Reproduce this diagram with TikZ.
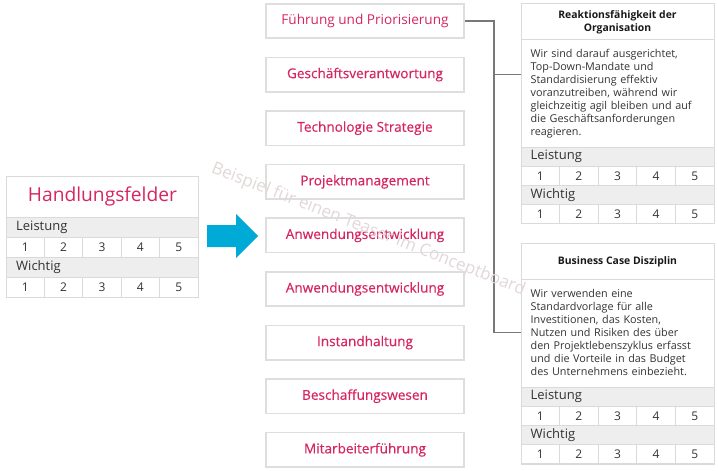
\documentclass[tikz,border=0pt]{standalone}
\usepackage{fontspec}
\setmainfont{Open Sans}
\newfontfamily\topicfont{Open Sans}[FakeBold=0.35]
\usetikzlibrary{positioning,calc}
\definecolor{berry}{RGB}{214,38,98}
\definecolor{arrowcyan}{RGB}{0,170,214}
\definecolor{framegray}{RGB}{222,222,222}
\definecolor{gridgray}{RGB}{218,218,218}
\definecolor{bandgray}{RGB}{238,238,238}
\definecolor{ink}{RGB}{51,51,51}
\definecolor{titleink}{RGB}{25,25,25}
\definecolor{wiregray}{RGB}{120,120,120}
\definecolor{markgray}{RGB}{226,216,216}
\tikzset{
  topic/.style={draw=framegray,line width=1.6pt,fill=white,text=berry,
    minimum width=198.4pt,minimum height=34.4pt,inner sep=0pt,
    font=\topicfont\fontsize{13.6}{16}\selectfont},
  lighttopic/.style={topic,font=\fontsize{13.6}{16}\selectfont},
  panel/.style={draw=gridgray,line width=0.9pt,fill=white,inner sep=0pt,anchor=north west},
  bandrow/.style={draw=gridgray,line width=0.9pt,fill=bandgray},
  scorecell/.style={draw=gridgray,line width=0.9pt,fill=white},
  bandlabel/.style={anchor=west,inner sep=0pt,text=ink,font=\fontsize{13}{15}\selectfont},
  scorenum/.style={inner sep=0pt,text=ink,font=\fontsize{12}{14}\selectfont},
  cardtitle/.style={font=\bfseries\fontsize{10.4}{13.3}\selectfont,align=center,text=titleink},
  cardtext/.style={anchor=north west,inner sep=0pt,text width=184pt,align=left,
    text=ink,font=\fontsize{10.8}{13}\selectfont},
  wire/.style={draw=wiregray,line width=1.2pt},
  pointer/.style={fill=arrowcyan},
  watermark/.style={text=markgray,font=\fontsize{17}{20}\selectfont,
    rotate=-21.5,anchor=west,inner sep=0pt}
}
% two rating rows: name, x, y, width, row height, label inset
\newcommand{\scoregrid}[6]{%
  \foreach \lab [count=\r from 0] in {Leistung,Wichtig}{
    \path[bandrow] (#2,{#3+2*\r*#5}) rectangle ++(#4,#5);
    \node[bandlabel] (#1-\lab) at ({#2+#6},{#3+(2*\r+0.5)*#5}) {\lab};
    \foreach \n in {1,...,5}{
      \path[scorecell] ({#2+(\n-1)*#4/5},{#3+(2*\r+1)*#5}) rectangle ++({#4/5},#5);
      \node[scorenum] (#1-\lab-\n) at ({#2+(\n-0.5)*#4/5},{#3+(2*\r+1.5)*#5}) {\n};
    }
  }
}
\begin{document}
\begin{tikzpicture}[x=1pt,y=-1pt]
  \useasboundingbox[fill=white] (0,0) rectangle (718,471);

  % left block
  \node[panel,minimum width=192pt,minimum height=41pt,text=berry,
    font=\fontsize{19.2}{22}\selectfont] (hf) at (6,176) {Handlungsfelder};
  \scoregrid{hf}{6}{217}{192}{20}{10}

  \fill[pointer] (207,225) -- (236,225) -- (236,214) -- (258,236)
    -- (236,258) -- (236,247) -- (207,247) -- cycle;

  % topics
  \node[lighttopic] (topic0) at (365,21) {Führung und Priorisierung};
  \foreach \t [count=\i from 1] in {Geschäftsverantwortung,Technologie Strategie,
    Projektmanagement,Anwendungsentwicklung,Anwendungsentwicklung,
    Instandhaltung,Beschaffungswesen,Mitarbeiterführung}
    \node[topic] (topic\i) at (365,{21+53.6*\i}) {\t};

  % cards
  \node[panel,minimum width=193pt,minimum height=220pt] (card1) at (521,3) {};
  \draw[draw=gridgray,line width=0.9pt] (521,39) -- (714,39);
  \node[cardtitle] (card1-title) at (617.5,22) {Reaktionsfähigkeit der\\Organisation};
  \node[cardtext] (card1-text) at (530.5,49) {Wir sind darauf ausgerichtet,\\
    Top-Down-Mandate und\\Standardisierung effektiv\\voranzutreiben, während wir\\
    gleichzeitig agil bleiben und auf\\die Geschäftsanforderungen\\reagieren.};
  \scoregrid{card1}{521}{147}{193}{19.2}{9.5}

  \node[panel,minimum width=193pt,minimum height=221pt] (card2) at (521,243) {};
  \draw[draw=gridgray,line width=0.9pt] (521,279) -- (714,279);
  \node[cardtitle] (card2-title) at (617.5,262) {Business Case Disziplin};
  \node[cardtext] (card2-text) at (530.5,289.5) {Wir verwenden eine\\
    Standardvorlage für alle\\Investitionen, das Kosten,\\Nutzen und Risiken des über\\
    den Projektlebenszyklus erfasst\\und die Vorteile in das Budget\\des Unternehmens einbezieht.};
  \scoregrid{card2}{521}{387}{193}{19.2}{9.5}

  % connectors
  \coordinate (fork) at ($(topic0.east)+(29,0)$);
  \draw[wire] (topic0.east) -- (fork) |- ([yshift=21.5pt]card2.west);
  \draw[wire] ([yshift=39pt]card1.west) -| (fork);

  \node[watermark] (mark) at (212,168) {Beispiel für einen Teaser im Conceptboard};
\end{tikzpicture}
\end{document}
